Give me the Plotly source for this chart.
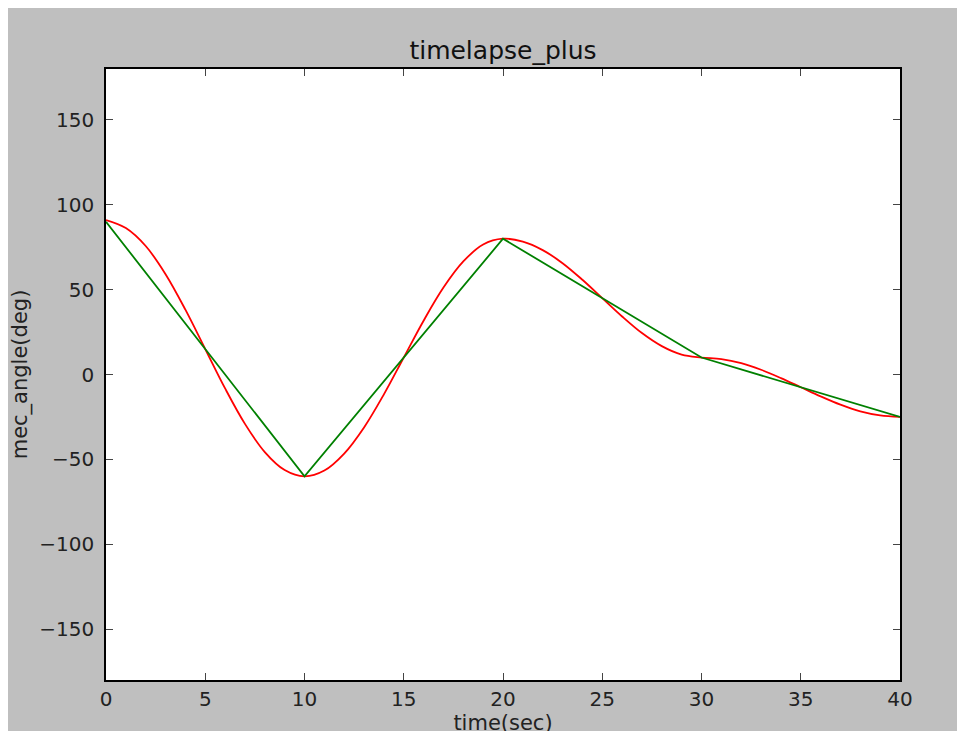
import plotly.graph_objects as go

# keyframes (green, linear)
key_t = [0, 10, 20, 30, 40]
key_angle = [90, -60, 80, 10, -25]

# smooth (red) curve at 1-second steps
smooth_t = list(range(0, 41))
smooth_angle = [
    91, 86.3, 75.7, 59.1, 38.2, 15, -8.2, -29.1, -45.7, -56.3,
    -60, -56.6, -46.6, -31.2, -11.7, 10, 31.7, 51.2, 66.6, 76.6,
    80, 78.3, 73.3, 65.6, 55.8, 45, 34.2, 24.4, 16.7, 11.7,
    10, 9.1, 6.7, 2.8, -2.1, -7.5, -12.9, -17.8, -21.7, -24.1,
    -25,
]

x_ticks = [0, 5, 10, 15, 20, 25, 30, 35, 40]
y_ticks = [-150, -100, -50, 0, 50, 100, 150]

# page body has an 8px margin; figure runs past the window's right and bottom edges
W, H = 980, 743
L, R, T, B = 98, 88, 61, 71

fig = go.Figure()
fig.add_trace(go.Scatter(x=smooth_t, y=smooth_angle, mode="lines",
                         line=dict(color="#ff0000", width=1.8, shape="spline"),
                         showlegend=False))
fig.add_trace(go.Scatter(x=key_t, y=key_angle, mode="lines",
                         line=dict(color="#008000", width=1.8),
                         showlegend=False))

tick_font = dict(family="DejaVu Sans", size=20, color="#222222")
label_font = dict(family="DejaVu Sans", size=21, color="#222222")
axis_common = dict(showline=True, linecolor="black", linewidth=1.5, mirror="ticks",
                   ticks="inside", ticklen=7, tickwidth=1, tickcolor="#444444",
                   showgrid=False, zeroline=False, tickfont=tick_font,
                   automargin=False)

fig.update_layout(
    width=W, height=H,
    margin=dict(l=L, r=R, t=T, b=B),
    paper_bgcolor="#bfbfbf", plot_bgcolor="white",
    title=dict(text="timelapse_plus", x=0.5, xref="paper", xanchor="center",
               y=1 - 42 / H, yanchor="middle",
               font=dict(family="DejaVu Sans", size=25, color="#111111")),
    xaxis=dict(range=[0, 40], tickvals=x_ticks, ticktext=[str(v) for v in x_ticks],
               ticklabelstandoff=0,
               title=dict(text="time(sec)", font=label_font, standoff=0), **axis_common),
    yaxis=dict(range=[-180, 180], tickvals=y_ticks,
               ticktext=[str(v).replace("-", "\u2212") for v in y_ticks],
               ticklabelstandoff=6,
               title=dict(text="mec_angle(deg)", font=label_font, standoff=6), **axis_common),
)

fig.write_html("out.html",
               post_script="document.body.style.overflow='hidden';")
